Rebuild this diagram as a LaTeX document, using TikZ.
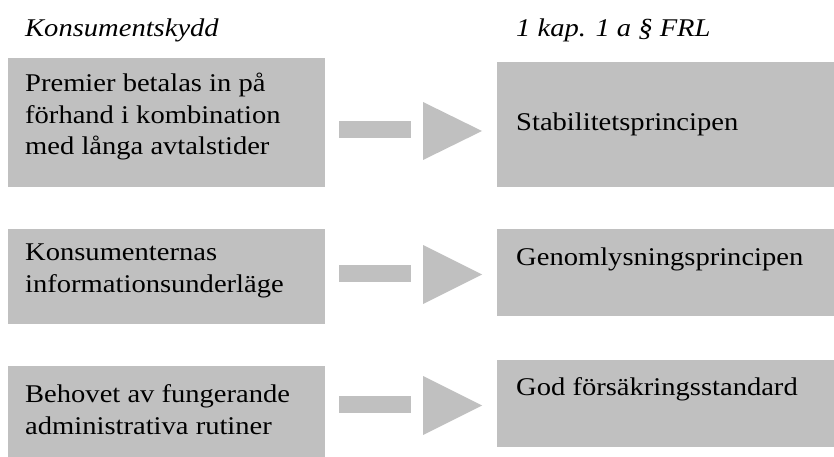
\documentclass[tikz,border=0pt]{standalone}
\usepackage{fontspec}
\setmainfont[FakeStretch=1.12]{Liberation Serif}
\usepackage{tikz}
\usetikzlibrary{positioning}
\definecolor{boxgray}{RGB}{192,192,192}
\tikzset{
  box/.style={fill=boxgray, inner sep=0pt, anchor=north west},
  txt/.style={anchor=base west, align=left, inner sep=0pt, font=\fontsize{25.5}{31.5}\selectfont},
  head/.style={anchor=base west, inner sep=0pt, font=\fontsize{25.5}{31.5}\selectfont\itshape},
}

\begin{document}
\begin{tikzpicture}[x=1pt,y=-1pt]
\useasboundingbox (0,0) rectangle (834,457);
\node [head] (kons) at (25,37) {Konsumentskydd};
\node [head] (frl) at (516,37) {1 kap. 1 a \S{} FRL};

\node [box, minimum width=317pt, minimum height=129pt] (l1) at (8,58) {};
\node [box, minimum width=317pt, minimum height=95pt] (l2) at (8,229) {};
\node [box, minimum width=317pt, minimum height=91pt] (l3) at (8,366) {};

\node [box, minimum width=337pt, minimum height=125pt] (r1) at (497,62) {};
\node [box, minimum width=337pt, minimum height=87pt] (r2) at (497,229) {};
\node [box, minimum width=337pt, minimum height=87pt] (r3) at (497,360) {};

% base anchor = last line
\node [txt] (l1t) at (25,155) {Premier betalas in på\\förhand i kombination\\med långa avtalstider};
\node [txt] (l2t) at (25,292) {Konsumenternas\\informationsunderläge};
\node [txt] (l3t) at (25,434) {Behovet av fungerande\\administrativa rutiner};

\node [txt] (r1t) at (516,131) {Stabilitetsprincipen};
\node [txt] (r2t) at (516,265) {Genomlysningsprincipen};
\node [txt] (r3t) at (516,395) {God försäkringsstandard};

\fill [boxgray] (339,121) rectangle (411,138);
\fill [boxgray] (423,102) -- (482,131) -- (423,160) -- cycle;

\fill [boxgray] (339,265) rectangle (411,282);
\fill [boxgray] (423,245) -- (482,274.5) -- (423,304) -- cycle;

\fill [boxgray] (339,396) rectangle (411,413);
\fill [boxgray] (423,376) -- (482,405.5) -- (423,435) -- cycle;
\end{tikzpicture}
\end{document}
